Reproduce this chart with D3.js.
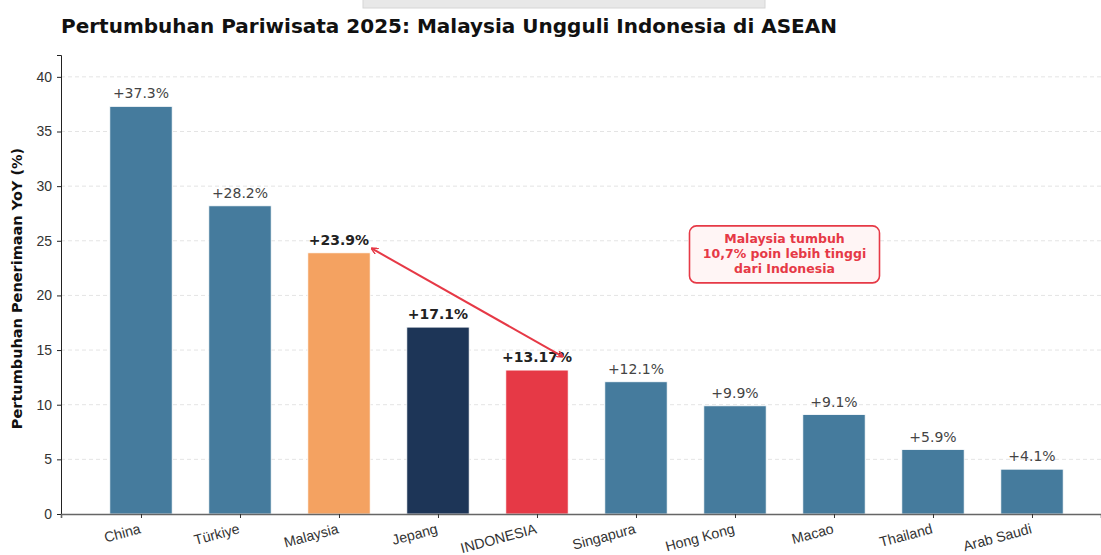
<!DOCTYPE html>
<html>
<head>
<meta charset="utf-8">
<script src="https://cdn.jsdelivr.net/npm/d3@7"></script>
<style>
  body { margin: 0; background: #fff; }
  svg { display: block; font-family: "DejaVu Sans", sans-serif; }
</style>
</head>
<body>
<div id="chart"></div>
<script>
var countries = ["China", "Türkiye", "Malaysia", "Jepang", "INDONESIA", "Singapura", "Hong Kong", "Macao", "Thailand", "Arab Saudi"];
var growth    = [37.3, 28.2, 23.9, 17.1, 13.17, 12.1, 9.9, 9.1, 5.9, 4.1];
var yTicks    = [0, 5, 10, 15, 20, 25, 30, 35, 40];
var highlight = {"Malaysia": "#f4a261", "Jepang": "#1d3557", "INDONESIA": "#e63946"};
var baseColor = "#457b9d";
var noteLines = ["Malaysia tumbuh", "10,7% poin lebih tinggi", "dari Indonesia"];

var width = 1101, height = 555;
var margins = {top: 55, bottom: 41, left: 61, right: 0};

var svg = d3.select("#chart").append("svg")
    .attr("width", width)
    .attr("height", height);

/* Grey strip at the top */
svg.append("rect")
    .attr("x", 363).attr("y", -2)
    .attr("width", 402).attr("height", 10)
    .attr("fill", "#e8e8e8")
    .attr("stroke", "#d6d6d6");

/* Scales */
var x = d3.scaleLinear()
    .domain([-0.808, 9.697])
    .range([margins.left, width - margins.right]);
var y = d3.scaleLinear()
    .domain([0, 42])
    .range([height - margins.bottom, margins.top]);
var barW = x(0.63) - x(0);

/* Title */
svg.append("text")
    .attr("x", 61).attr("y", 33)
    .attr("font-size", 20)
    .attr("font-weight", "bold")
    .attr("fill", "#111")
    .text("Pertumbuhan Pariwisata 2025: Malaysia Ungguli Indonesia di ASEAN");

/* Grid */
svg.append("g").selectAll("line")
    .data(yTicks.slice(1))
    .enter().append("line")
        .attr("x1", margins.left).attr("x2", width)
        .attr("y1", function(d) { return y(d); })
        .attr("y2", function(d) { return y(d); })
        .attr("stroke", "#e4e4e4")
        .attr("stroke-dasharray", "4,3");

/* Bars */
svg.append("g").selectAll("rect")
    .data(countries)
    .enter().append("rect")
        .attr("x", function(d, i) { return x(i) - barW / 2; })
        .attr("y", function(d, i) { return y(growth[i]); })
        .attr("width", barW)
        .attr("height", function(d, i) { return y(0) - y(growth[i]); })
        .attr("fill", function(d) { return highlight[d] || baseColor; })
        .attr("stroke", "#fff")
        .attr("stroke-width", 0.8);

/* Value labels */
svg.append("g").selectAll("text")
    .data(countries)
    .enter().append("text")
        .attr("x", function(d, i) { return x(i); })
        .attr("y", function(d, i) { return y(growth[i]) - 8; })
        .attr("text-anchor", "middle")
        .attr("font-size", 14)
        .attr("font-weight", function(d) { return highlight[d] ? "bold" : "normal"; })
        .attr("fill", function(d) { return highlight[d] ? "#222" : "#444"; })
        .text(function(d, i) { return "+" + growth[i] + "%"; });

/* Axes */
var yAxis = d3.axisLeft(y).tickValues(yTicks).tickSize(4).tickPadding(5);
var gy = svg.append("g")
    .attr("transform", "translate(" + margins.left + ",0)")
    .call(yAxis);
gy.select(".domain").attr("stroke", "#222").attr("stroke-width", 1);
gy.selectAll(".tick line").attr("stroke", "#222");
gy.selectAll(".tick text").attr("font-size", 14).attr("fill", "#333");

var xAxis = d3.axisBottom(x).tickValues(d3.range(countries.length)).tickSize(4)
    .tickFormat(function(i) { return countries[i]; });
var gx = svg.append("g")
    .attr("transform", "translate(0," + y(0) + ")")
    .call(xAxis);
gx.select(".domain").attr("stroke", "#666").attr("stroke-width", 1.6);
gx.selectAll(".tick line").attr("stroke", "#333");
gx.selectAll(".tick text")
    .attr("font-size", 14.2)
    .attr("fill", "#333")
    .attr("text-anchor", "end")
    .attr("dy", null)
    .attr("y", 0)
    .attr("transform", "translate(0,19) rotate(-15)");

/* Y label */
svg.append("text")
    .attr("transform", "translate(22," + ((y(0) + y(42)) / 2 + 4) + ") rotate(-90)")
    .attr("text-anchor", "middle")
    .attr("font-size", 14.5)
    .attr("font-weight", "bold")
    .attr("fill", "#111")
    .text("Pertumbuhan Penerimaan YoY (%)");

/* Double arrow Malaysia <-> Indonesia */
var defs = svg.append("defs");
defs.append("marker")
    .attr("id", "head")
    .attr("viewBox", "0 0 10 10")
    .attr("refX", 9).attr("refY", 5)
    .attr("markerWidth", 7).attr("markerHeight", 7)
    .attr("markerUnits", "userSpaceOnUse")
    .attr("orient", "auto-start-reverse")
    .append("path")
        .attr("d", "M0,0 L10,5 L0,10")
        .attr("fill", "none")
        .attr("stroke", "#e63946")
        .attr("stroke-width", 2);

svg.append("line")
    .attr("x1", x(2.33)).attr("y1", y(24.3))
    .attr("x2", x(4.26)).attr("y2", y(14.4))
    .attr("stroke", "#e63946")
    .attr("stroke-width", 2)
    .attr("marker-start", "url(#head)")
    .attr("marker-end", "url(#head)");

/* Note box */
var note = svg.append("g")
    .attr("transform", "translate(" + x(6.5) + "," + y(23.8) + ")");
note.append("rect")
    .attr("x", -95).attr("y", -28)
    .attr("width", 190).attr("height", 57)
    .attr("rx", 7)
    .attr("fill", "#fff5f5")
    .attr("stroke", "#e63946")
    .attr("stroke-width", 1.6);
note.selectAll("text")
    .data(noteLines)
    .enter().append("text")
        .attr("x", 0)
        .attr("y", function(d, i) { return (i - 1) * 15 + 4.5; })
        .attr("text-anchor", "middle")
        .attr("font-size", 12.5)
        .attr("font-weight", "bold")
        .attr("fill", "#e63946")
        .text(function(d) { return d; });
</script>
</body>
</html>
